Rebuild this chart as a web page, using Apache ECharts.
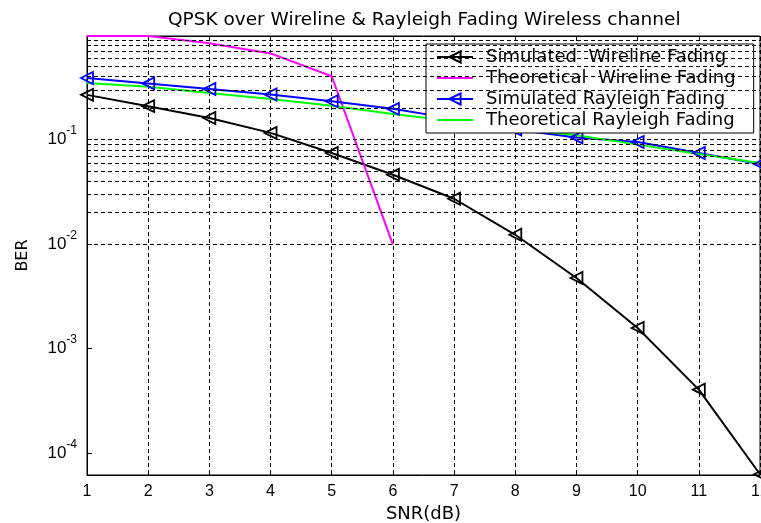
<!DOCTYPE html>
<html>
<head>
<meta charset="utf-8">
<script src="https://cdn.jsdelivr.net/npm/echarts@6/dist/echarts.min.js"></script>
<style>
html,body{margin:0;padding:0;background:#fff;}
#chart{width:761px;height:523px;}
</style>
</head>
<body>
<div id="chart"></div>
<script>
// ---- data ----
const snr = [1, 2, 3, 4, 5, 6, 7, 8, 9, 10, 11, 12];
const simWireline = [0.268, 0.209, 0.161, 0.116, 0.0746, 0.0462, 0.0272, 0.0123, 0.00475, 0.00158, 0.000406, 0.000063];
const theoWirelineSnr = [1, 2, 3, 4, 5, 6];
const theoWireline = [0.98, 0.98, 0.835, 0.668, 0.404, 0.0099];
const simRayleigh = [0.389, 0.345, 0.305, 0.270, 0.233, 0.197, 0.158, 0.125, 0.105, 0.095, 0.0746, 0.0585];
const theoRayleigh = [0.349, 0.320, 0.280, 0.245, 0.211, 0.176, 0.150, 0.128, 0.110, 0.0896, 0.0730, 0.0598];
const seriesNames = ['Simulated  Wireline Fading', 'Theoretical  Wireline Fading', 'Simulated Rayleigh Fading', 'Theoretical Rayleigh Fading'];
const yDecades = [1e-5, 1e-4, 1e-3, 1e-2, 1e-1];
const yMantissas = [1, 2, 3, 4, 5, 6, 7, 8, 9];
const yMin = 6.2e-5, yMax = 0.98;
const titleText = 'QPSK over Wireline & Rayleigh Fading Wireless channel';

const pairs = (xs, ys) => ys.map((v, i) => [xs[i], v]);
const gridValues = [];
yDecades.forEach(d => yMantissas.forEach(m => {
  const v = d * m;
  if (v > yMin && v < yMax) gridValues.push(v);
}));

const dash = [4, 3];
const lineIcon = 'path://M0,0L36,0L36,2L0,2Z';
const chart = echarts.init(document.getElementById('chart'), null, {renderer: 'canvas'});
const markerStyle = c => ({color: 'rgba(0,0,0,0)', borderColor: c, borderWidth: 1.8});

chart.setOption({
  backgroundColor: '#fff',
  animation: false,
  title: {
    text: titleText, left: 163, top: 6,
    textStyle: {fontFamily: 'DejaVu Sans', fontSize: 18.5, fontWeight: 'normal', color: '#000'}
  },
  legend: {
    data: [
      {name: seriesNames[0]},
      {name: seriesNames[1], icon: lineIcon},
      {name: seriesNames[2]},
      {name: seriesNames[3], icon: lineIcon}
    ],
    orient: 'vertical', left: 426, top: 44,
    padding: [4, 18, 4, 10], itemWidth: 36, itemHeight: 14, itemGap: 3,
    backgroundColor: '#fff', borderColor: '#000', borderWidth: 1,
    selectedMode: false,
    textStyle: {fontFamily: 'DejaVu Sans', fontSize: 18, lineHeight: 18, color: '#000', padding: [0, 0, 0, 8]}
  },
  grid: {left: 87, right: 1, top: 36, bottom: 48, show: true, borderColor: '#000', borderWidth: 1,
         outerBoundsMode: 'none', containLabel: false},
  xAxis: [{
    type: 'value', min: 1, max: 12, interval: 1, position: 'bottom',
    axisLine: {lineStyle: {color: '#000', width: 1}},
    axisTick: {inside: true, length: 5, lineStyle: {color: '#000'}},
    axisLabel: {fontFamily: 'Liberation Sans', fontSize: 16, color: '#000', margin: 9, hideOverlap: false},
    splitLine: {show: true, lineStyle: {color: '#000', type: dash, width: 1}},
    name: 'SNR(dB)', nameLocation: 'middle', nameGap: 24,
    nameTextStyle: {fontFamily: 'DejaVu Sans', fontSize: 18, color: '#000'}
  }, {
    type: 'value', min: 1, max: 12, interval: 1, position: 'top',
    axisLine: {lineStyle: {color: '#000', width: 1}},
    axisTick: {inside: true, length: 5, lineStyle: {color: '#000'}},
    axisLabel: {show: false}, splitLine: {show: false}
  }],
  yAxis: [{
    type: 'log', logBase: 10, min: yMin, max: yMax,
    axisLine: {lineStyle: {color: '#000', width: 1}},
    axisTick: {inside: true, length: 5, lineStyle: {color: '#000'}},
    axisLabel: {
      color: '#000', margin: 10,
      formatter: v => {
        const e = Math.log10(v), r = Math.round(e);
        return Math.abs(e - r) < 1e-6 ? '{b|10}{s|' + r + '}' : '';
      },
      rich: {
        b: {fontFamily: 'Liberation Sans', fontSize: 17, lineHeight: 30, color: '#000'},
        s: {fontFamily: 'Liberation Sans', fontSize: 12, lineHeight: 12, verticalAlign: 'top', color: '#000'}
      }
    },
    splitLine: {show: false},
    name: 'BER', nameLocation: 'middle', nameGap: 56, nameRotate: 90,
    nameTextStyle: {fontFamily: 'DejaVu Sans', fontSize: 16, color: '#000'}
  }],
  series: [{
    type: 'line', name: 'gridlines', data: [], silent: true, z: 1,
    markLine: {
      silent: true, symbol: ['none', 'none'], animation: false,
      label: {show: false},
      lineStyle: {color: '#000', type: dash, width: 1},
      data: gridValues.map(v => ({yAxis: v}))
    }
  }, {
    type: 'line', name: seriesNames[0], data: pairs(snr, simWireline),
    symbol: 'triangle', symbolRotate: 90, symbolSize: 12,
    lineStyle: {color: '#000', width: 2}, itemStyle: markerStyle('#000'), color: '#000', z: 3
  }, {
    type: 'line', name: seriesNames[1], data: pairs(theoWirelineSnr, theoWireline),
    symbol: 'none', lineStyle: {color: '#ff00ff', width: 2}, itemStyle: {color: '#ff00ff'}, color: '#ff00ff', z: 3
  }, {
    type: 'line', name: seriesNames[2], data: pairs(snr, simRayleigh),
    symbol: 'triangle', symbolRotate: 90, symbolSize: 12,
    lineStyle: {color: '#0000ff', width: 2}, itemStyle: markerStyle('#0000ff'), color: '#0000ff', z: 3
  }, {
    type: 'line', name: seriesNames[3], data: pairs(snr, theoRayleigh),
    symbol: 'none', lineStyle: {color: '#00ff00', width: 2}, itemStyle: {color: '#00ff00'}, color: '#00ff00', z: 3
  }]
});
</script>
</body>
</html>
